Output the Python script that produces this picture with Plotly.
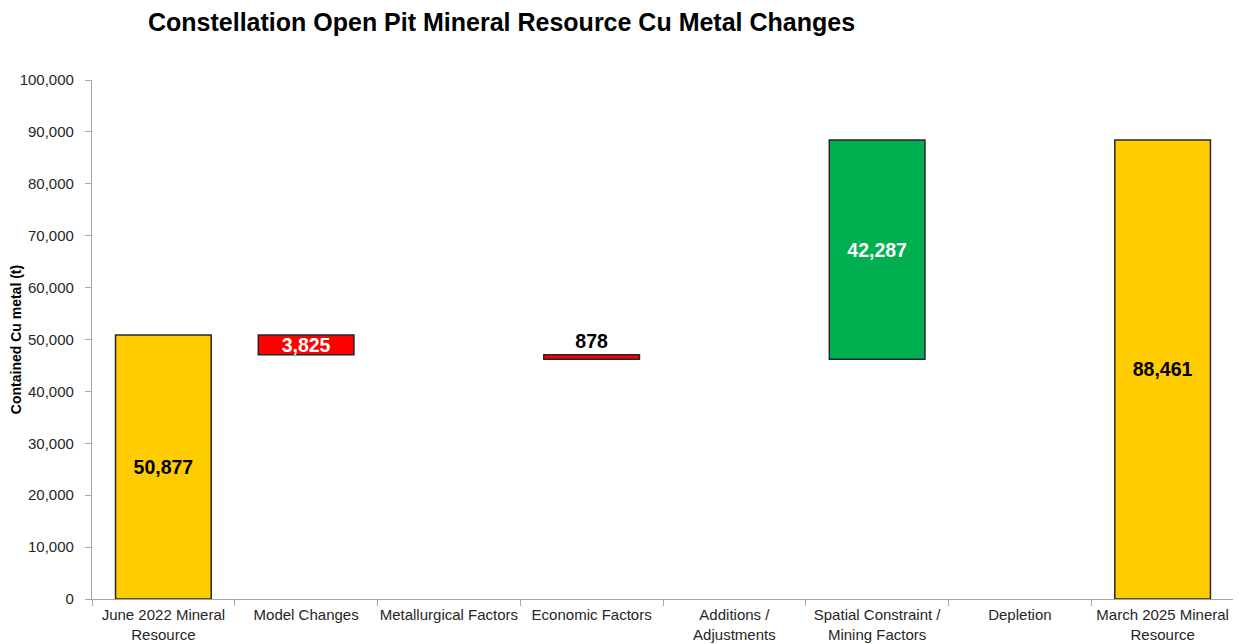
import plotly.graph_objects as go

categories = ["June 2022 Mineral<br>Resource", "Model Changes", "Metallurgical Factors",
              "Economic Factors", "Additions /<br>Adjustments", "Spatial Constraint /<br>Mining Factors",
              "Depletion", "March 2025 Mineral<br>Resource"]
changes = [50877, -3825, 0, -878, 0, 42287, 0, None]
measures = ["absolute", "relative", "relative", "relative", "relative", "relative", "relative", "total"]

# compute bars from running totals
bases, heights, colors, texts, tcolors, tpos = [], [], [], [], [], []
running = 0
for m, v in zip(measures, changes):
    if m == "absolute":
        running = v
        bases.append(0); heights.append(v); colors.append("#FFCC00")
        texts.append(f"<b>{v:,}</b>"); tcolors.append("black"); tpos.append("inside")
    elif m == "total":
        bases.append(0); heights.append(running); colors.append("#FFCC00")
        texts.append(f"<b>{running:,}</b>"); tcolors.append("black"); tpos.append("inside")
    else:
        if v == 0:
            bases.append(running); heights.append(None); colors.append("#FFFFFF")
            texts.append(""); tcolors.append("black"); tpos.append("none")
        else:
            lo = min(running, running + v)
            bases.append(lo); heights.append(abs(v))
            colors.append("#00B050" if v > 0 else "#FF0000")
            texts.append(f"<b>{abs(v):,}</b>")
            if abs(v) < 2000:
                tcolors.append("black"); tpos.append("outside")
            else:
                tcolors.append("white"); tpos.append("inside")
            running += v

fig = go.Figure(go.Bar(
    x=categories, y=heights, base=bases,
    marker=dict(color=colors, line=dict(color="#262626", width=1.5)),
    text=texts, textposition=tpos, insidetextanchor="middle",
    textfont=dict(family="Liberation Sans, Arial", size=19.5, color=tcolors),
    cliponaxis=False, width=0.67,
))

# page has an 8px body margin, so the figure is 8px smaller and offset
fig.update_layout(
    width=1233, height=636,
    plot_bgcolor="white", paper_bgcolor="white",
    margin=dict(l=84, r=7, t=72, b=45),
    title=dict(text="<b>Constellation Open Pit Mineral Resource Cu Metal Changes</b>",
               x=140/1233, xanchor="left", y=1 - 14/636, yanchor="middle",
               font=dict(family="Liberation Sans, Arial", size=25, color="black")),
    showlegend=False,
    uniformtext=dict(minsize=19, mode="show"),
    font=dict(family="Liberation Sans, Arial", color="black"),
)
fig.update_yaxes(range=[0, 100000], dtick=10000, tickformat=",", showgrid=False,
                 showline=True, linecolor="#A6A6A6", linewidth=1.2,
                 ticks="outside", ticklen=6, tickcolor="#A6A6A6", ticklabelstandoff=8,
                 tickfont=dict(size=15, color="#262626"), automargin=False,
                 title=dict(text="<b>Contained Cu metal (t)</b>", font=dict(size=14, color="black"), standoff=12))
fig.update_xaxes(showline=True, linecolor="#A6A6A6", linewidth=1.2, showgrid=False,
                 ticks="outside", ticklen=6, tickcolor="#A6A6A6", tickson="boundaries",
                 ticklabelstandoff=2,
                 tickangle=0, tickfont=dict(size=15, color="#262626"), automargin=False)

fig.write_html("out.html")
